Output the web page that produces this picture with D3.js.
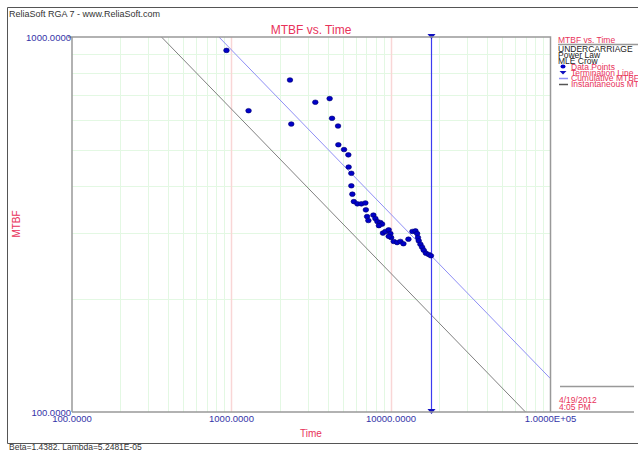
<!DOCTYPE html>
<html>
<head>
<meta charset="utf-8">
<title>MTBF vs. Time</title>
<script src="https://d3js.org/d3.v7.min.js"></script>
<style>
  body { margin: 0; background: #fff; }
  svg text { font-family: 'Liberation Sans', Arial, sans-serif; }
</style>
</head>
<body>
<div id="chart"></div>
<script>
// data
var failTimes = [930, 1279, 2326, 2370, 3353, 4124, 4269, 4655, 4676, 5076, 5402, 5426, 5641, 5641, 5724,
  5850, 6153, 6520, 6907, 6957, 7079, 7213, 7754, 7981, 8214, 8581, 8796, 8395, 8900, 9224, 9674, 9913,
  10014, 9674, 10397, 10922, 11455, 11964, 12860, 13625, 14229, 14583, 14754, 14925, 15296, 15676,
  16046, 16563, 17247, 17805];
var mtbfValues = [921, 636, 768, 586, 670, 685, 607, 579, 516, 501, 485, 450, 433, 401, 381,
  364, 359, 359, 361, 346, 332, 324, 335, 328, 322, 320, 317, 314, 300, 303, 306, 299,
  292, 294, 285, 283, 285, 281, 289, 303, 304, 299, 292, 286, 280, 275,
  270, 265, 263, 261];
var terminationTime = 17700;
var cumLineTime = [834, 100000];
var cumLineMtbf = [1000, 122.7];
var instLineTime = [364, 69700];
var instLineMtbf = [1000, 100];
var xTicks = [100, 1000, 10000, 100000];
var xTickLabels = ['100.0000', '1000.0000', '10000.0000', '1.0000E+05'];
var yTicks = [100, 1000];
var yTickLabels = ['100.0000', '1000.0000'];
var legendHead = ['UNDERCARRIAGE', 'Power Law', 'MLE Crow'];
var legendItems = ['Data Points', 'Termination Line', 'Cumulative MTBF', 'Instantaneous MTBF'];

var width = 638, height = 450;
var pLeft = 72, pRight = 550.5, pTop = 37, pBottom = 412;
var red = '#e8325a', blue = '#3434a8';

var svg = d3.select('#chart').append('svg')
  .attr('width', width).attr('height', height);

var x = d3.scaleLog().domain([100, 100000]).range([pLeft, pRight]);
var y = d3.scaleLog().domain([100, 1000]).range([pBottom, pTop]);

// outer frame
svg.append('path')
  .attr('d', 'M640,7.5 H7.5 V443.5 H640')
  .style('fill', 'none').style('stroke', '#555').style('stroke-width', 1);

svg.append('text').attr('x', 9).attr('y', 17).text('ReliaSoft RGA 7 - www.ReliaSoft.com')
  .style('font-size', '9px').style('fill', '#333');
svg.append('text').attr('x', 9).attr('y', 449.5).text('Beta=1.4382, Lambda=5.2481E-05')
  .style('font-size', '8.5px').style('fill', '#333');

// grid
svg.append('clipPath').attr('id', 'plotclip')
  .append('rect').attr('x', pLeft).attr('y', pTop).attr('width', pRight - pLeft).attr('height', pBottom - pTop);

var xMinor = [], xMajor = [];
[100, 1000, 10000].forEach(function(d) {
  for (var k = 2; k < 10; k++) xMinor.push(d * k);
  if (d > 100) xMajor.push(d);
});
var yMinor = [];
for (var k = 2; k < 10; k++) yMinor.push(100 * k);

var grid = svg.append('g');
grid.selectAll('.xm').data(xMinor).enter().append('line')
  .attr('x1', function(d) { return Math.round(x(d)) + 0.5; }).attr('x2', function(d) { return Math.round(x(d)) + 0.5; })
  .attr('y1', pTop).attr('y2', pBottom)
  .style('stroke', '#e3f8e3').style('stroke-width', 1);
grid.selectAll('.ym').data(yMinor).enter().append('line')
  .attr('y1', function(d) { return Math.round(y(d)) + 0.5; }).attr('y2', function(d) { return Math.round(y(d)) + 0.5; })
  .attr('x1', pLeft).attr('x2', pRight)
  .style('stroke', '#e3f8e3').style('stroke-width', 1);
grid.selectAll('.xM').data(xMajor).enter().append('line')
  .attr('x1', function(d) { return Math.round(x(d)) + 0.5; }).attr('x2', function(d) { return Math.round(x(d)) + 0.5; })
  .attr('y1', pTop).attr('y2', pBottom)
  .style('stroke', '#f9d6d6').style('stroke-width', 1.5);

// model lines
var line = d3.line().x(function(d) { return x(d[0]); }).y(function(d) { return y(d[1]); });
svg.append('path').datum(d3.zip(instLineTime, instLineMtbf))
  .attr('d', line).attr('clip-path', 'url(#plotclip)')
  .style('fill', 'none').style('stroke', '#808080').style('stroke-width', 1);
svg.append('path').datum(d3.zip(cumLineTime, cumLineMtbf))
  .attr('d', line).attr('clip-path', 'url(#plotclip)')
  .style('fill', 'none').style('stroke', '#8f8ff5').style('stroke-width', 1);

// termination line
var tx = Math.round(x(terminationTime)) + 0.5;
svg.append('line').attr('x1', tx).attr('x2', tx).attr('y1', pTop).attr('y2', pBottom)
  .style('stroke', '#3c3cf0').style('stroke-width', 1.2);
[pTop, pBottom].forEach(function(yy) {
  svg.append('path')
    .attr('d', 'M' + (tx - 4) + ',' + (yy - 3) + ' L' + (tx + 4) + ',' + (yy - 3) + ' L' + tx + ',' + (yy + 2) + 'Z')
    .style('fill', '#1010c0');
});

// data points
svg.append('g').selectAll('ellipse').data(d3.zip(failTimes, mtbfValues)).enter().append('ellipse')
  .attr('cx', function(d) { return x(d[0]); })
  .attr('cy', function(d) { return y(d[1]); })
  .attr('rx', 2.8).attr('ry', 2.3)
  .style('fill', '#0000c8').style('stroke', '#000070').style('stroke-width', 0.6);

// plot border
svg.append('path')
  .attr('d', 'M68,' + pTop + ' H' + pRight + ' V' + pBottom)
  .style('fill', 'none').style('stroke', '#999').style('stroke-width', 1.5);
svg.append('line').attr('x1', pLeft).attr('x2', pLeft).attr('y1', pTop).attr('y2', pBottom)
  .style('stroke', '#999').style('stroke-width', 1.5);
svg.append('line').attr('x1', pLeft).attr('x2', 634).attr('y1', pBottom).attr('y2', pBottom)
  .style('stroke', '#999').style('stroke-width', 1.5);

// axes labels
svg.append('g').selectAll('text').data(xTicks).enter().append('text')
  .attr('x', function(d) { return x(d); }).attr('y', 422)
  .attr('text-anchor', 'middle')
  .text(function(d, i) { return xTickLabels[i]; })
  .style('font-size', '9.5px').style('fill', blue);
svg.append('g').selectAll('text').data(yTicks).enter().append('text')
  .attr('x', 71).attr('y', function(d) { return y(d) + 3.5; })
  .attr('text-anchor', 'end')
  .text(function(d, i) { return yTickLabels[i]; })
  .style('font-size', '9.5px').style('fill', blue);

svg.append('text').attr('x', 311).attr('y', 34).attr('text-anchor', 'middle')
  .text('MTBF vs. Time').style('font-size', '12px').style('fill', red);
svg.append('text').attr('x', 311).attr('y', 437).attr('text-anchor', 'middle')
  .text('Time').style('font-size', '10px').style('fill', red);
svg.append('text').attr('transform', 'translate(20,224) rotate(-90)').attr('text-anchor', 'middle')
  .text('MTBF').style('font-size', '10px').style('fill', red);

// legend
var lg = svg.append('g');
lg.append('text').attr('x', 558).attr('y', 43).text('MTBF vs. Time')
  .style('font-size', '8.5px').style('fill', red);
lg.append('line').attr('x1', 558).attr('x2', 640).attr('y1', 44.5).attr('y2', 44.5)
  .style('stroke', '#999').style('stroke-width', 1.5);
lg.selectAll('.hd').data(legendHead).enter().append('text')
  .attr('x', 558).attr('y', function(d, i) { return 51.5 + i * 6; })
  .text(function(d) { return d; })
  .style('font-size', '8.5px').style('fill', '#222');
lg.selectAll('.it').data(legendItems).enter().append('text')
  .attr('x', 571).attr('y', function(d, i) { return 70 + i * 5.7; })
  .text(function(d) { return d; })
  .style('font-size', '8.5px').style('fill', red);
lg.append('ellipse').attr('cx', 563).attr('cy', 66.5).attr('rx', 2.5).attr('ry', 2)
  .style('fill', '#0000c8');
lg.append('path').attr('d', 'M559.5,71 L566.5,71 L563,74.5Z').style('fill', '#1010c0');
lg.append('line').attr('x1', 559).attr('x2', 568).attr('y1', 78.5).attr('y2', 78.5)
  .style('stroke', '#8f8ff5').style('stroke-width', 1.5);
lg.append('line').attr('x1', 559).attr('x2', 568).attr('y1', 84.5).attr('y2', 84.5)
  .style('stroke', '#555').style('stroke-width', 1.5);

// date box
svg.append('line').attr('x1', 560).attr('x2', 634).attr('y1', 386.5).attr('y2', 386.5)
  .style('stroke', '#999').style('stroke-width', 1.5);
svg.append('text').attr('x', 559).attr('y', 403).text('4/19/2012')
  .style('font-size', '8.5px').style('fill', red);
svg.append('text').attr('x', 559).attr('y', 410).text('4:05 PM')
  .style('font-size', '8.5px').style('fill', red);
</script>
</body>
</html>
